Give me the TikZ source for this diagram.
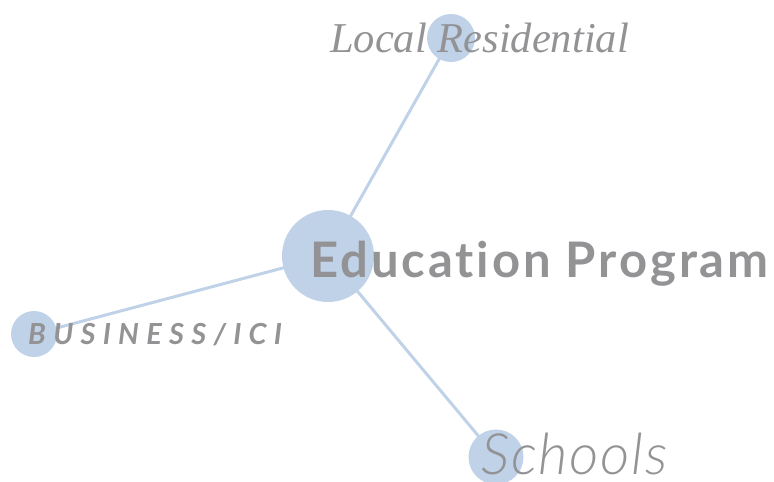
\documentclass[tikz,border=0pt]{standalone}
\usepackage{fontspec}
\setmainfont{Liberation Serif}
\newfontfamily\edufont[LetterSpace=6,Ligatures=NoCommon]{Lato}
\newfontfamily\bizfont[LetterSpace=25]{Lato}
\IfFontExistsTF{Lato Light}
  {\newfontfamily\schfont[LetterSpace=3]{Lato Light}}
  {\newfontfamily\schfont[LetterSpace=3]{Lato}}
\newfontfamily\locfont{Liberation Serif}
\definecolor{bubble}{HTML}{C0D2E8}
\definecolor{txtgray}{HTML}{939396}
\begin{document}
\begin{tikzpicture}[x=1pt,y=-1pt,
  hub/.style={circle,fill=bubble,inner sep=0pt,minimum size=#1},
  link/.style={draw=bubble,line width=3pt},
  lbl/.style={anchor=base west,inner sep=0pt,text=txtgray}]
\useasboundingbox (0,0) rectangle (774,482);
\coordinate (c) at (328,256);
\coordinate (t) at (451,38);
\coordinate (l) at (34,334);
\coordinate (b) at (496,457);
\draw[link] (c) -- (t);
\draw[link] (c) -- (l);
\draw[link] (c) -- (b);
\node[hub=92pt] (nc) at (c) {};
\node[hub=48pt] (nt) at (t) {};
\node[hub=46pt] (nl) at (l) {};
\node[hub=55pt] (nb) at (b) {};
\node[lbl] (te) at (310,277) {\edufont\bfseries\fontsize{49}{49}\selectfont Education Program};
\node[lbl] (tl) at (330,52) {\locfont\itshape\fontsize{42.5}{42.5}\selectfont Local Residential};
\node[lbl] (tb) at (28,344) {\bizfont\bfseries\itshape\fontsize{29}{29}\selectfont BUSINESS/ICI};
\node[lbl,text depth=0pt] (ts) at (481,474) {\schfont\itshape\fontsize{57}{57}\selectfont Schools};
\end{tikzpicture}
\end{document}
